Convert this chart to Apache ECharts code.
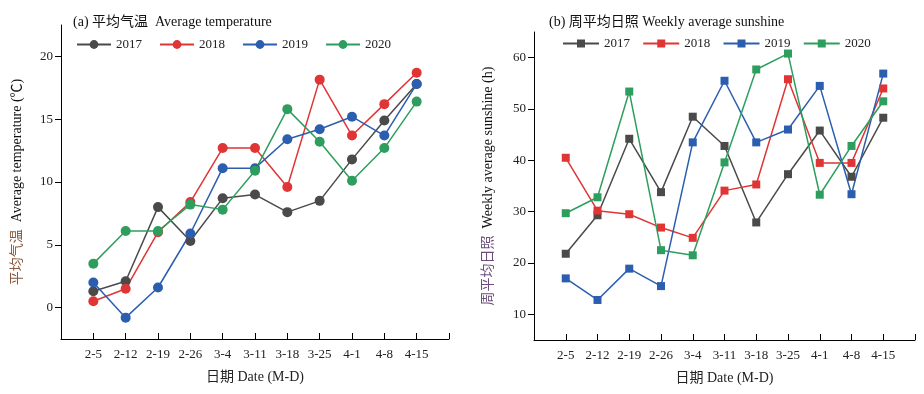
<!DOCTYPE html>
<html><head><meta charset="utf-8">
<script src="https://cdn.jsdelivr.net/npm/echarts@6/dist/echarts.min.js"></script>
<style>html,body{margin:0;padding:0;background:#fff}#c{width:924px;height:394px}</style>
</head><body><div id="c"></div>
<script>
const dates = ['2-5','2-12','2-19','2-26','3-4','3-11','3-18','3-25','4-1','4-8','4-15'];
const years = ['2017','2018','2019','2020'];
const tempTicks = [0,5,10,15,20];
const sunTicks = [10,20,30,40,50,60];
const temp2017 = [1.3,2.1,8.0,5.3,8.7,9.0,7.6,8.5,11.8,14.9,17.8];
const temp2018 = [0.5,1.5,6.0,8.4,12.7,12.7,9.6,18.15,13.7,16.2,18.7];
const temp2019 = [2.0,-0.8,1.6,5.9,11.1,11.1,13.4,14.2,15.2,13.7,17.8];
const temp2020 = [3.5,6.1,6.1,8.2,7.8,10.9,15.8,13.2,10.1,12.7,16.4];
const sun2017 = [21.8,29.3,44.2,33.8,48.5,42.8,27.9,37.3,45.8,36.8,48.3];
const sun2018 = [40.5,30.2,29.5,26.9,24.9,34.1,35.3,55.8,39.5,39.5,54.0];
const sun2019 = [17.0,12.8,18.9,15.5,43.5,55.5,43.5,46.0,54.5,33.4,56.9];
const sun2020 = [29.7,32.8,53.4,22.5,21.5,39.6,57.7,60.8,33.3,42.8,51.5];

const colors = ['#4a4a4a','#e03535','#2b5eae','#2e9e5e'];
const FONT = '"Liberation Serif","Noto Sans CJK SC",serif';
const padCats = [''].concat(dates, ['']);
const pad = arr => [null].concat(arr, [null]);

function xAxis(gi){
  return {type:'category', gridIndex:gi, data:padCats, boundaryGap:false,
    axisLine:{onZero:false,lineStyle:{color:'#000',width:1}},
    axisTick:{inside:true,length:6,lineStyle:{color:'#000'}},
    axisLabel:{color:'#222',fontFamily:FONT,fontSize:13,margin:9,interval:0},
    name:'日期 Date (M-D)', nameLocation:'middle', nameGap:31,
    nameTextStyle:{color:'#222',fontFamily:FONT,fontSize:14},
    splitLine:{show:false}};
}
function yAxis(gi,min,max,ticks,cn,en,cnColor,gap){
  return {type:'value', gridIndex:gi, min:min, max:max,
    axisLine:{show:true,onZero:false,lineStyle:{color:'#000',width:1}},
    axisTick:{show:true,length:6,lineStyle:{color:'#000'},customValues:ticks},
    axisLabel:{color:'#222',fontFamily:FONT,fontSize:13,margin:8,customValues:ticks},
    splitLine:{show:false},
    name:'{cn|'+cn+'}  {en|'+en+'}', nameLocation:'middle', nameGap:gap, nameRotate:90,
    nameTextStyle:{fontFamily:FONT,fontSize:14,rich:{
      cn:{color:cnColor,fontFamily:FONT,fontSize:14},
      en:{color:'#111',fontFamily:FONT,fontSize:14}}}};
}
const tempData = [temp2017,temp2018,temp2019,temp2020];
const sunData = [sun2017,sun2018,sun2019,sun2020];
const series = [];
years.forEach((y,i)=>{
  series.push({name:y,type:'line',xAxisIndex:0,yAxisIndex:0,data:pad(tempData[i]),
    symbol:'circle',symbolSize:10,lineStyle:{width:1.5,color:colors[i]},
    itemStyle:{color:colors[i]},connectNulls:false,animation:false});
});
years.forEach((y,i)=>{
  series.push({name:y+' ',type:'line',xAxisIndex:1,yAxisIndex:1,data:pad(sunData[i]),
    symbol:'rect',symbolSize:8,lineStyle:{width:1.5,color:colors[i]},
    itemStyle:{color:colors[i]},connectNulls:false,animation:false});
});

const chart = echarts.init(document.getElementById('c'));
chart.setOption({
  animation:false,
  color:colors,
  title:[
    {text:'(a) 平均气温  Average temperature',left:68,top:10,
     textStyle:{fontFamily:FONT,fontSize:14,fontWeight:'normal',color:'#111'}},
    {text:'(b) 周平均日照 Weekly average sunshine',left:544,top:10,
     textStyle:{fontFamily:FONT,fontSize:14,fontWeight:'normal',color:'#111'}}
  ],
  legend:[
    {left:71,top:33,itemWidth:34,itemHeight:11,itemGap:17,
     data:years,
     textStyle:{fontFamily:FONT,fontSize:13,color:'#222'},
     selectedMode:false},
    {left:557,top:32,itemWidth:36,itemHeight:10,itemGap:9,
     data:years.map(y=>y+' '),
     textStyle:{fontFamily:FONT,fontSize:13,color:'#222'},
     selectedMode:false}
  ],
  grid:[
    {left:61,top:25,width:388,height:314},
    {left:534,top:32,width:381,height:308}
  ],
  xAxis:[xAxis(0),xAxis(1)],
  yAxis:[
    yAxis(0,-2.5,22.5,tempTicks,'平均气温','Average temperature (℃)','#8b5a3c',37),
    yAxis(1,5,65,sunTicks,'周平均日照','Weekly average sunshine (h)','#6b4c7a',39)
  ],
  series:series
});
</script></body></html>
